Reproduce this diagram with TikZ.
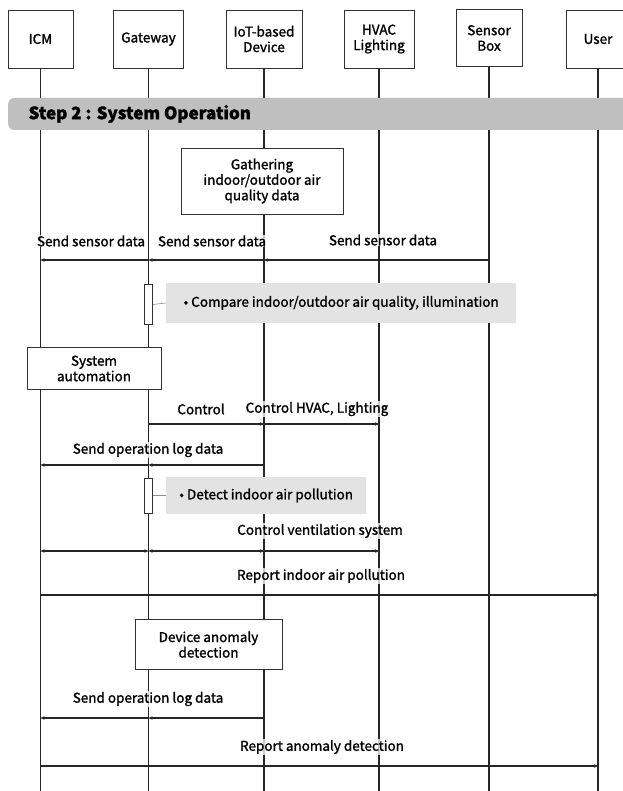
\documentclass[tikz,border=0pt]{standalone}
\usepackage{fontspec}
\setmainfont{Noto Sans CJK KR}[FakeBold=1.4]
\usetikzlibrary{arrows.meta}
\begin{document}
\begin{tikzpicture}[x=1pt,y=-1pt,
  >={Stealth[length=4pt,width=3.5pt]},
  txt/.style={font=\fontsize{13.5}{15.5}\selectfont},
  head/.style={draw=black!80, line width=0.8pt, fill=white, align=center, txt, minimum height=58pt, inner sep=2pt},
  life/.style={line width=1.3pt, black!85},
  proc/.style={draw=black!80, line width=0.7pt, fill=white, align=center, txt, inner sep=3pt},
  note/.style={fill=black!11, txt, anchor=west, inner sep=6pt},
  act/.style={draw=black!80, line width=0.6pt, fill=white, minimum width=8pt, inner sep=0pt},
  msg/.style={line width=1.2pt, black!85, ->},
  lbl/.style={txt, fill=white, fill opacity=0.75, text opacity=1, inner sep=1pt}
]
\useasboundingbox (0,0) rectangle (622,791);

% participants
\node[head, minimum width=65pt] (icm) at (40.5,39) {ICM};
\node[head, minimum width=70pt] (gw)  at (148.5,39) {Gateway};
\node[head, minimum width=76pt] (iot) at (264,39) {IoT-based\\Device};
\node[head, minimum width=70pt] (hvac) at (379,39) {HVAC\\Lighting};
\node[head, minimum width=66pt, minimum height=57pt] (sb) at (489,38) {Sensor\\Box};
\node[head, minimum width=64pt] (usr) at (598,39) {User};

% lifelines
\foreach \p in {icm,gw,iot,hvac,sb,usr}
  \draw[life] (\p.south) -- (\p.south |- 0,791);

% phase bar
\node[fill=black!25, rounded corners=6pt, minimum width=630pt, minimum height=32pt, anchor=west, inner sep=0pt] (bar) at (8,114) {};
\node[anchor=west, font=\fontsize{17}{20}\selectfont\bfseries] (bartxt) at (25,114) {Step 2 : System Operation};

% gathering data
\node[proc, minimum width=162pt, minimum height=66pt] (gather) at (262,181) {Gathering\\indoor/outdoor air\\quality data};

% send sensor data
\coordinate (m1) at (0,260);
\draw[msg] (sb |- m1) -- (iot |- m1);
\draw[msg] (iot |- m1) -- (gw |- m1);
\draw[msg] (gw |- m1) -- (icm |- m1);
\node[lbl] (l1a) at (91,241) {Send sensor data};
\node[lbl] (l1b) at (212,241) {Send sensor data};
\node[lbl] (l1c) at (383,240) {Send sensor data};

% compare
\node[act, minimum height=40pt] (a1) at (148.5,304.5) {};
\node[note, minimum width=350pt, minimum height=40pt] (n1) at (166,303) {• Compare indoor/outdoor air quality, illumination};
\draw[black!45, line width=0.6pt] (a1.east) -- (n1.west);

% system automation
\node[proc, minimum width=134pt, minimum height=42pt] (auto) at (94,368.5) {System\\automation};

% control
\coordinate (m2) at (0,424);
\draw[msg] (gw |- m2) -- (iot |- m2);
\draw[msg] (iot |- m2) -- (hvac |- m2);
\node[lbl] (l2a) at (201,409) {Control};
\node[lbl] (l2b) at (317,409) {Control HVAC, Lighting};

% operation log
\coordinate (m3) at (0,465);
\draw[msg] (iot |- m3) -- (gw |- m3);
\draw[msg] (gw |- m3) -- (icm |- m3);
\node[lbl] (l3) at (148,450) {Send operation log data};

% detect pollution
\node[act, minimum height=35pt] (a2) at (148.5,495.5) {};
\node[note, minimum width=200pt, minimum height=37pt] (n2) at (166,495.5) {• Detect indoor air pollution};
\draw[black!45, line width=0.6pt] (a2.east) -- (n2.west);

% ventilation
\coordinate (m4) at (0,551);
\draw[msg, <->] (icm |- m4) -- (gw |- m4);
\draw[msg, <->] (gw |- m4) -- (iot |- m4);
\draw[msg] (iot |- m4) -- (hvac |- m4);
\node[lbl] (l4) at (320,531) {Control ventilation system};

% report pollution
\coordinate (m5) at (0,595);
\draw[msg] (icm |- m5) -- (usr |- m5);
\node[lbl] (l5) at (321,576) {Report indoor air pollution};

% anomaly
\node[proc, minimum width=147pt, minimum height=50pt] (anom) at (208.5,644.5) {Device anomaly\\detection};

\coordinate (m6) at (0,718);
\draw[msg] (iot |- m6) -- (gw |- m6);
\draw[msg] (gw |- m6) -- (icm |- m6);
\node[lbl] (l6) at (148,699) {Send operation log data};

\coordinate (m7) at (0,766);
\draw[msg] (icm |- m7) -- (usr |- m7);
\node[lbl] (l7) at (322,747) {Report anomaly detection};
\end{tikzpicture}
\end{document}
